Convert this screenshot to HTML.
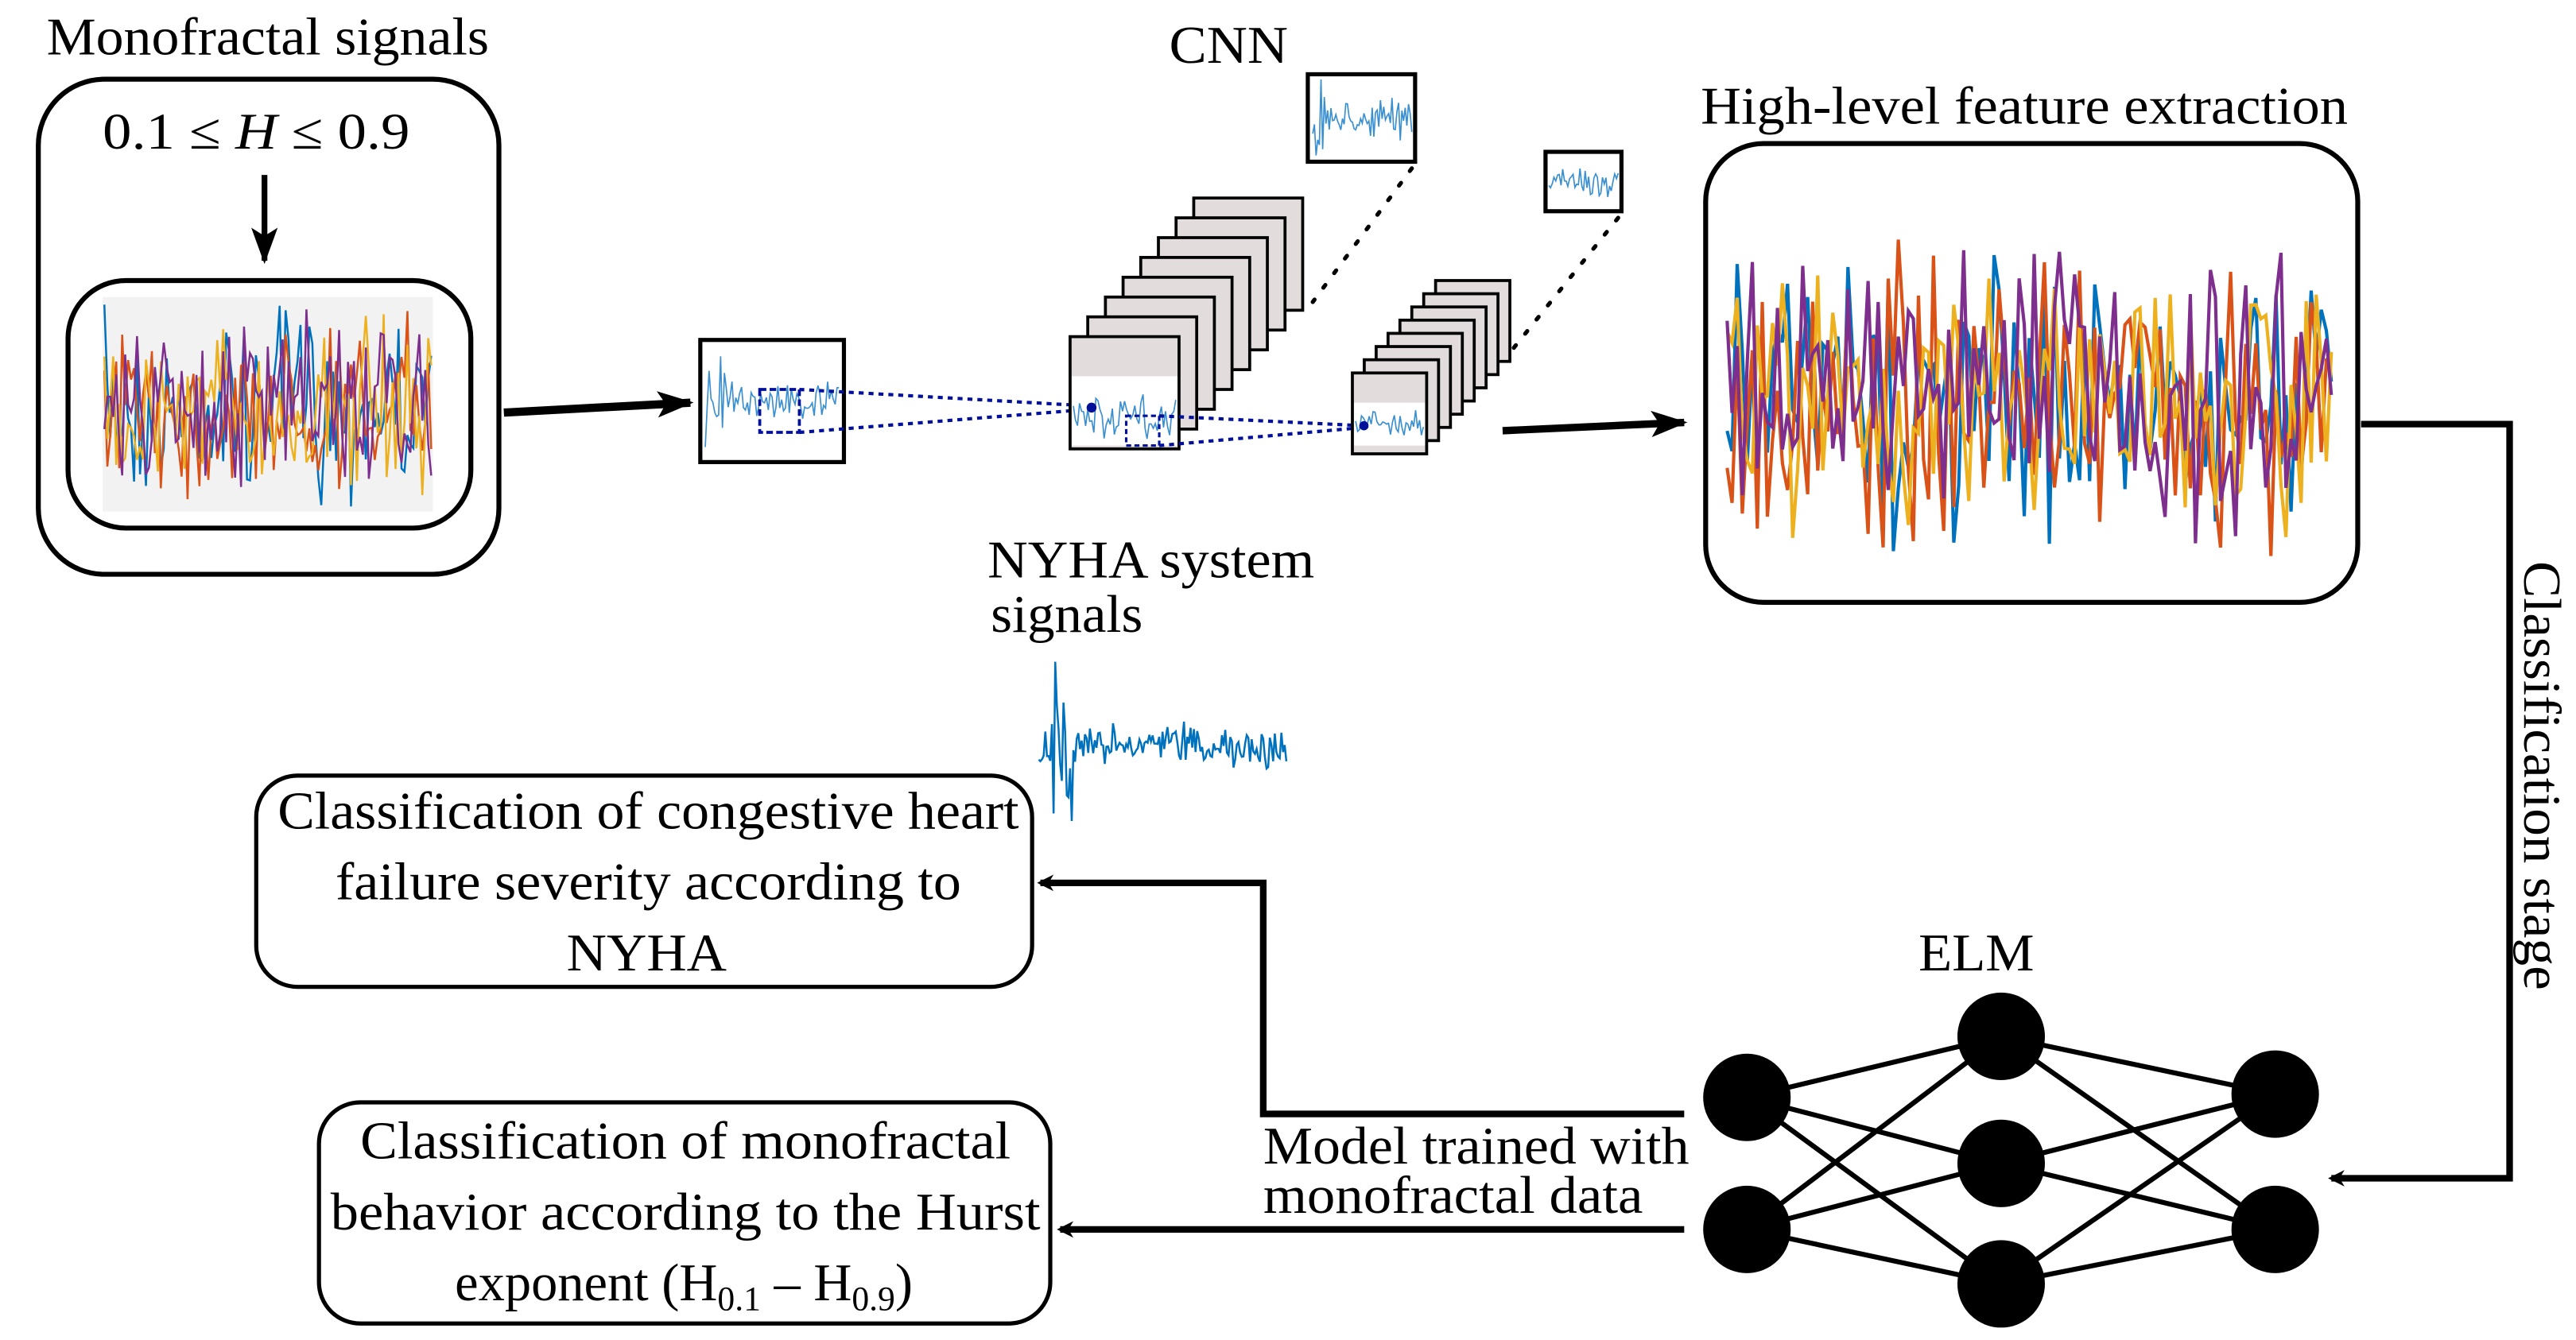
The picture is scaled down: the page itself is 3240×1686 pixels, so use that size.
<!DOCTYPE html>
<html><head><meta charset="utf-8"><style>
html,body{margin:0;padding:0;background:#fff;}
svg{display:block;}
text{font-family:"Liberation Serif",serif;fill:#000;}
</style></head><body>
<svg id="s" width="3240" height="1686" viewBox="0 0 1560 812" xmlns="http://www.w3.org/2000/svg" font-family="Liberation Serif, serif">
<defs>
<marker id="ah" markerWidth="10" markerHeight="10" refX="8" refY="5" orient="auto" markerUnits="userSpaceOnUse" viewBox="0 0 10 10">
<path d="M0,0 L10,5 L0,10 L3,5 Z" fill="#000"/></marker>
<marker id="ah2" markerWidth="22" markerHeight="16" refX="20" refY="8" orient="auto" markerUnits="userSpaceOnUse" viewBox="0 0 22 16">
<path d="M0,0 L22,8 L0,16 L5,8 Z" fill="#000"/></marker>
</defs>
<text x="28" y="33" font-size="32" textLength="268" lengthAdjust="spacingAndGlyphs">Monofractal signals</text>
<rect x="23" y="48" width="279" height="300" rx="40" fill="none" stroke="#000" stroke-width="3"/>
<text x="62" y="90" font-size="31" textLength="186" lengthAdjust="spacingAndGlyphs">0.1 ≤ <tspan font-style="italic">H</tspan> ≤ 0.9</text>
<line x1="160" y1="106" x2="160" y2="158" stroke="#000" stroke-width="3.5" marker-end="url(#ah2)"/>
<rect x="41" y="170" width="244" height="150" rx="35" fill="none" stroke="#000" stroke-width="3"/>
<rect x="62" y="180" width="200" height="130" fill="#f2f2f2"/>
<g id="mono"></g>
<line x1="305" y1="250" x2="418" y2="244" stroke="#000" stroke-width="5" marker-end="url(#ah2)"/>
<rect x="424" y="206" width="87" height="74" fill="#fff" stroke="#000" stroke-width="2.5"/>
<g id="in"></g>
<rect x="460" y="236" width="24" height="26" fill="none" stroke="#00109a" stroke-width="1.8" stroke-dasharray="4,2"/>
<line x1="484" y1="236" x2="660" y2="246" stroke="#00109a" stroke-width="2" stroke-dasharray="3,3"/>
<line x1="484" y1="262" x2="660" y2="248" stroke="#00109a" stroke-width="2" stroke-dasharray="3,3"/>
<g id="stk"></g>
<text x="708" y="38" font-size="32" textLength="72" lengthAdjust="spacingAndGlyphs">CNN</text>
<rect x="792" y="45" width="65" height="53" fill="#fff" stroke="#000" stroke-width="2.5"/>
<rect x="936" y="92" width="46" height="36" fill="#fff" stroke="#000" stroke-width="2.5"/>
<g id="fm"></g>
<line x1="855" y1="102" x2="795" y2="183" stroke="#000" stroke-width="2.5" stroke-dasharray="2,9" stroke-linecap="round"/>
<line x1="980" y1="132" x2="915" y2="213" stroke="#000" stroke-width="2.5" stroke-dasharray="2,9" stroke-linecap="round"/>
<line x1="910" y1="261" x2="1020" y2="256" stroke="#000" stroke-width="4.5" marker-end="url(#ah2)"/>
<text x="1030" y="75" font-size="32" textLength="392" lengthAdjust="spacingAndGlyphs">High-level feature extraction</text>
<rect x="1033" y="87" width="395" height="278" rx="35" fill="none" stroke="#000" stroke-width="3"/>
<g id="hl"></g>
<polyline points="1430,257 1520,257 1520,714 1412,714" fill="none" stroke="#000" stroke-width="4" marker-end="url(#ah)"/>
<text transform="translate(1529,340) rotate(90)" font-size="32" textLength="260" lengthAdjust="spacingAndGlyphs">Classification stage</text>
<text x="598" y="350" font-size="32" textLength="198" lengthAdjust="spacingAndGlyphs">NYHA system</text>
<text x="600" y="383" font-size="32" textLength="92" lengthAdjust="spacingAndGlyphs">signals</text>
<g id="ny"></g>
<rect x="155" y="470" width="470" height="128" rx="25" fill="none" stroke="#000" stroke-width="2.5"/>
<text x="168" y="502" font-size="32" textLength="449" lengthAdjust="spacingAndGlyphs">Classification of congestive heart</text>
<text x="203" y="545" font-size="32" textLength="379" lengthAdjust="spacingAndGlyphs">failure severity according to</text>
<text x="343" y="588" font-size="32" textLength="97" lengthAdjust="spacingAndGlyphs">NYHA</text>
<polyline points="1020,675 765,675 765,535 630,535" fill="none" stroke="#000" stroke-width="4" marker-end="url(#ah)"/>
<rect x="193" y="668" width="443" height="134" rx="25" fill="none" stroke="#000" stroke-width="2.5"/>
<text x="218" y="702" font-size="32" textLength="394" lengthAdjust="spacingAndGlyphs">Classification of monofractal</text>
<text x="200" y="745" font-size="32" textLength="430" lengthAdjust="spacingAndGlyphs">behavior according to the Hurst</text>
<text x="414" y="788" font-size="32" text-anchor="middle">exponent (H<tspan font-size="21" dy="6">0.1</tspan><tspan dy="-6"> – H</tspan><tspan font-size="21" dy="6">0.9</tspan><tspan dy="-6">)</tspan></text>
<line x1="1020" y1="745" x2="642" y2="745" stroke="#000" stroke-width="4" marker-end="url(#ah)"/>
<text x="765" y="705" font-size="32" textLength="258" lengthAdjust="spacingAndGlyphs">Model trained with</text>
<text x="765" y="735" font-size="32" textLength="230" lengthAdjust="spacingAndGlyphs">monofractal data</text>
<text x="1162" y="588" font-size="32" textLength="70" lengthAdjust="spacingAndGlyphs">ELM</text>
<g id="elm" stroke="#000" stroke-width="3"></g>
</svg>
<script>
var NS="http://www.w3.org/2000/svg";
var seed=7;function r(){seed=(seed*16807)%2147483647;return seed/2147483647;}
function el(p,t,a){var e=document.createElementNS(NS,t);for(var k in a)e.setAttribute(k,a[k]);document.getElementById(p).appendChild(e);return e;}
function sig(p,x0,x1,yc,amp,n,col,sw,decay,spike){var pts=[];for(var i=0;i<=n;i++){var x=x0+(x1-x0)*i/n;var a=amp;if(decay)a=amp*(i<n*0.15?1.6:0.6);if(spike&&i>n*0.05&&i<n*0.14)a=spike;var y=yc+(r()*2-1)*a*(0.3+0.7*r());pts.push(x.toFixed(1)+","+y.toFixed(1));}el(p,"polyline",{points:pts.join(" "),fill:"none",stroke:col,"stroke-width":sw});}
var C=["#0072BD","#D95319","#EDB120","#7E2F8E"];
for(var c=0;c<4;c++)sig("mono",63,261,245,64,110,C[c],1.2);
sig("in",427,508,243,24,70,"#3a8fd0",0.8,true);
for(var i=7;i>=0;i--){var x=648+i*10.7,y=204-i*12;el("stk","rect",{x:x,y:y,width:66,height:68,fill:"#e2dcdc",stroke:"#000","stroke-width":1.8});}
el("stk","rect",{x:649,y:228,width:64,height:42,fill:"#fff"});
sig("stk",650,712,252,16,50,"#3a8fd0",0.8);
el("stk","rect",{x:682,y:252,width:20,height:18,fill:"none",stroke:"#00109a","stroke-width":1.5,"stroke-dasharray":"3,2"});
el("stk","circle",{cx:661,cy:247,r:3,fill:"#00109a"});
el("stk","line",{x1:702,y1:252,x2:826,y2:258,stroke:"#00109a","stroke-width":2,"stroke-dasharray":"3,3"});
el("stk","line",{x1:702,y1:270,x2:826,y2:259,stroke:"#00109a","stroke-width":2,"stroke-dasharray":"3,3"});
for(var i=7;i>=0;i--){var x=819+i*7.2,y=226-i*8;el("stk","rect",{x:x,y:y,width:45,height:49,fill:"#e2dcdc",stroke:"#000","stroke-width":1.8});}
el("stk","rect",{x:820,y:244,width:43,height:26,fill:"#fff"});
sig("stk",821,862,257,11,35,"#3a8fd0",0.8);
el("stk","circle",{cx:826,cy:258,r:2.8,fill:"#00109a"});
sig("fm",795,855,72,22,60,"#3a8fd0",0.8,true);
sig("fm",938,980,110,10,40,"#3a8fd0",0.8);
for(var c=0;c<4;c++)sig("hl",1046,1412,240,105,120,C[c],2);
sig("ny",629,779,452,16,150,"#0072BD",1.2,false,55);
var L=[[1058,665],[1058,745]],M=[[1212,628],[1212,705],[1212,778]],R=[[1378,663],[1378,745]];
L.forEach(function(a){M.forEach(function(b){el("elm","line",{x1:a[0],y1:a[1],x2:b[0],y2:b[1]});});});
M.forEach(function(a){R.forEach(function(b){el("elm","line",{x1:a[0],y1:a[1],x2:b[0],y2:b[1]});});});
L.concat(M,R).forEach(function(a){el("elm","circle",{cx:a[0],cy:a[1],r:25,fill:"#000"});});
</script>
</body></html>
